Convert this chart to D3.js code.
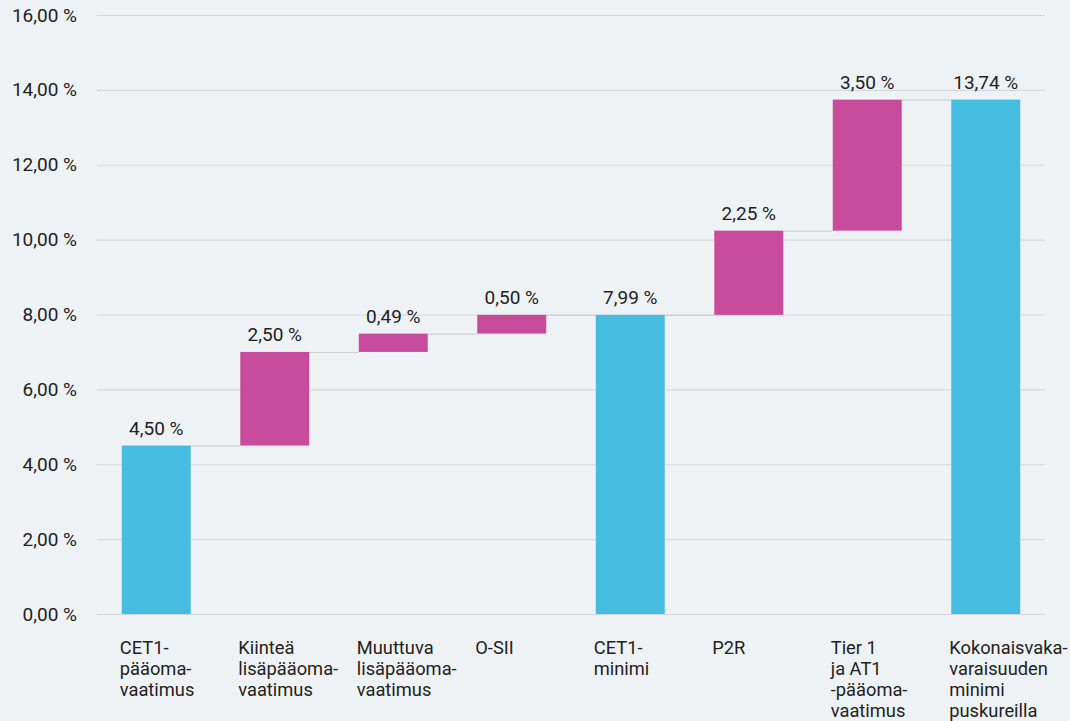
<!DOCTYPE html>
<html>
<head>
<meta charset="utf-8">
<script src="https://cdn.jsdelivr.net/npm/d3@7"></script>
<style>
  body { margin: 0; background: #eff2f4; }
  text { font-family: Roboto, sans-serif; fill: #222; }
</style>
</head>
<body>
<div id="chart-area"></div>
<script>
// categories (line breaks as in the original)
const categories = [
	["CET1-", "pääoma-", "vaatimus"],
	["Kiinteä", "lisäpääoma-", "vaatimus"],
	["Muuttuva", "lisäpääoma-", "vaatimus"],
	["O-SII"],
	["CET1-", "minimi"],
	["P2R"],
	["Tier 1", "ja AT1", "-pääoma-", "vaatimus"],
	["Kokonaisvaka-", "varaisuuden", "minimi", "puskureilla"]
]
const values = [4.50, 2.50, 0.49, 0.50, 7.99, 2.25, 3.50, 13.74]
const isTotal = [true, false, false, false, true, false, false, true]
const yTicks = [0, 2, 4, 6, 8, 10, 12, 14, 16]

const width = 1070, height = 721
const margin = {top: 15, right: 25, bottom: 107, left: 97}

const fi = d3.formatLocale({decimal: ",", thousands: " ", grouping: [3], currency: ["", ""]})
const fmt = v => fi.format(".2f")(v) + " %"

// build waterfall steps
let running = 0
const steps = values.map((v, i) => {
	let start, end
	if (isTotal[i]) { start = 0; end = v; running = v }
	else { start = running; end = running + v; running = end }
	return {i, v, start, end, total: isTotal[i]}
})

const svg = d3.select("#chart-area").append("svg")
	.attr("width", width)
	.attr("height", height)

svg.append("rect").attr("width", width).attr("height", height).attr("fill", "#eff2f4")

const x = d3.scaleBand()
	.domain(d3.range(values.length))
	.range([margin.left, width - margin.right])
	.paddingInner(0.418)
	.paddingOuter(0.209)

const y = d3.scaleLinear()
	.domain([0, 16])
	.range([height - margin.bottom, margin.top])

// grid + y labels
const yAxis = svg.append("g")
	.attr("transform", `translate(${margin.left},0)`)
	.call(d3.axisLeft(y).tickValues(yTicks).tickSize(-(width - margin.left - margin.right)).tickFormat(fmt).tickPadding(20))
yAxis.select(".domain").remove()
yAxis.selectAll(".tick line").attr("stroke", "#d5d8db").attr("stroke-width", 1.2)
yAxis.selectAll(".tick text").attr("font-size", 19).attr("fill", "#222")

// connectors
svg.append("g").selectAll("line")
	.data(steps.slice(0, -1))
	.join("line")
	.attr("x1", d => x(d.i) + x.bandwidth())
	.attr("x2", d => x(d.i + 1))
	.attr("y1", d => y(d.end) + 0.5)
	.attr("y2", d => y(d.end) + 0.5)
	.attr("stroke", "#c9cccf")
	.attr("stroke-width", 1)

// bars
svg.append("g").selectAll("rect")
	.data(steps)
	.join("rect")
	.attr("x", d => x(d.i))
	.attr("width", x.bandwidth())
	.attr("y", d => y(Math.max(d.start, d.end)))
	.attr("height", d => Math.abs(y(d.start) - y(d.end)))
	.attr("fill", d => d.total ? "#46bde0" : "#c94b9b")

// value labels
svg.append("g").selectAll("text")
	.data(steps)
	.join("text")
	.attr("x", d => x(d.i) + x.bandwidth() / 2)
	.attr("y", d => y(d.end) - 11)
	.attr("text-anchor", "middle")
	.attr("font-size", 19)
	.text(d => fmt(d.v))

// category labels
const cat = svg.append("g").selectAll("text")
	.data(categories)
	.join("text")
	.attr("x", (d, i) => x(i) - 2)
	.attr("y", 654)
	.attr("font-size", 18.3)
cat.selectAll("tspan")
	.data(d => d)
	.join("tspan")
	.attr("x", function() { return this.parentNode.getAttribute("x") })
	.attr("dy", (d, j) => j === 0 ? 0 : 21)
	.text(d => d)
</script>
</body>
</html>
